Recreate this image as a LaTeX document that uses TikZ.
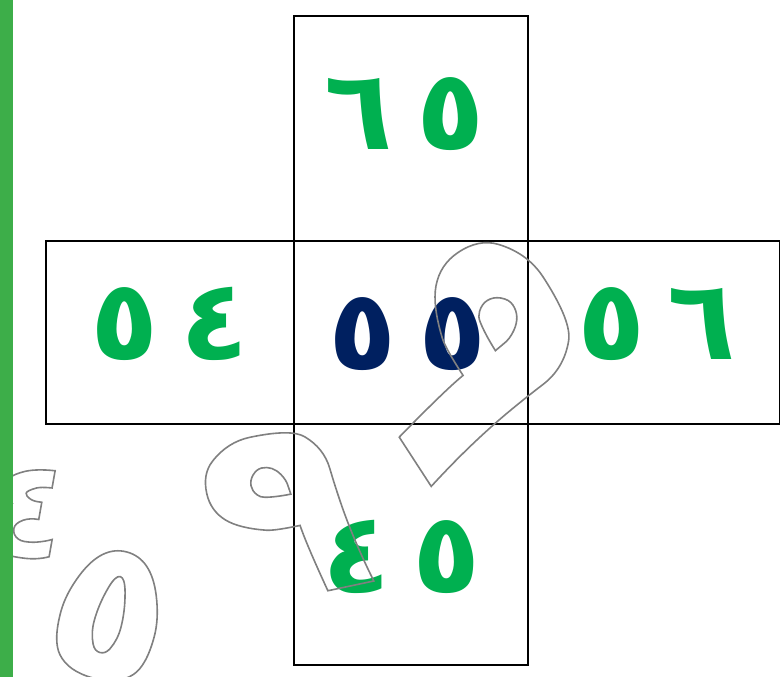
\documentclass[tikz,border=0pt]{standalone}
\usepackage{fontspec}
\usetikzlibrary{positioning}
\newfontfamily\arabicfont[Script=Arabic]{DejaVu Sans}
\definecolor{barGreen}{RGB}{61,174,73}
\definecolor{digitGreen}{RGB}{0,176,80}
\definecolor{digitNavy}{RGB}{0,32,96}
\definecolor{ghostGray}{RGB}{128,128,128}
% hollow glyphs: stroke only
\newcommand{\hollow}[1]{\special{pdf:code 1 Tr 1.6 w}#1\special{pdf:code 0 Tr}}

\begin{document}
\begin{tikzpicture}[x=1pt, y=-1pt,
    cell/.style={draw=black, line width=1.6pt, outer sep=0pt, inner sep=0pt},
    digits/.style={font=\arabicfont\bfseries\fontsize{112}{112}\selectfont, text=#1, inner sep=0pt},
    ghost/.style={font=\arabicfont\bfseries\fontsize{#1}{#1}\selectfont, text=ghostGray, inner sep=0pt}]
    \useasboundingbox (0,0) rectangle (780,677);

    % Cross of cells
    \node[cell, minimum width=234pt, minimum height=183pt] (mid) at (411,332.5) {};
    \node[cell, minimum width=234pt, minimum height=225pt, above=0pt of mid] (top) {};
    \node[cell, minimum width=234pt, minimum height=241pt, below=0pt of mid] (bot) {};
    \node[cell, minimum width=248pt, minimum height=183pt, left=0pt of mid] (left) {};
    \node[cell, minimum width=252pt, minimum height=183pt, right=0pt of mid] (right) {};

    % Numbers
    \node[digits=digitGreen] (n65) at (405,114) {٦\hspace{24pt}٥};
    \node[digits=digitGreen] (n54) at (170,324) {٥\hspace{22pt}٤};
    \node[digits=digitNavy] (n55) at (408,334) {٥\hspace{22pt}٥};
    \node[digits=digitGreen] (n56) at (657,324) {٥\hspace{22pt}٦};
    \node[digits=digitGreen] (n45) at (402,557) {٤\hspace{22pt}٥};

    % Hollow glyphs
    \node[ghost=325, rotate=-57] (g9a) at (468,352) {\hollow{٩}};
    \node[ghost=260, rotate=12] (g9b) at (284,515) {\hollow{٩}};
    \node[ghost=200, rotate=-15] (g5) at (110,615) {\hollow{٥}};
    \node[ghost=140, rotate=-10] (g4) at (25,512) {\hollow{٤}};

    % Side bar
    \fill[barGreen] (0,0) rectangle (12.5,677);
\end{tikzpicture}
\end{document}
